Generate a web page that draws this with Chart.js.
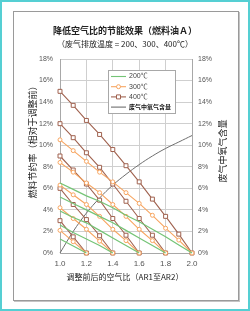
<!DOCTYPE html>
<html>
<head>
<meta charset="utf-8">
<script src="https://cdn.jsdelivr.net/npm/chart.js@4"></script>
<style>
  body { margin: 0; background: #fff; }
  #frame {
    position: absolute; left: 0; top: 0; width: 250px; height: 311px;
    box-sizing: border-box; border: 2px solid #55cfd3;
  }
  #card {
    position: absolute; left: 13px; top: 11px; width: 226px; height: 290px;
    box-sizing: border-box; border: 1px solid #9a9a9a; box-shadow: 1px 1px 0 #c4c4c4;
  }
  #wrap { position: absolute; left: 13px; top: 11px; width: 226px; height: 290px; }
  .txt {
    position: absolute; font-family: "Noto Sans CJK SC", sans-serif; color: #222;
    text-align: center; white-space: nowrap;
  }
  #title { left: 0; width: 250px; top: 25px; line-height: 12px; font-size: 9px; font-weight: bold; }
  #subtitle { left: 0; width: 250px; top: 38px; line-height: 12px; font-size: 8px; }
  #xTitle { left: 0; width: 250px; top: 271px; line-height: 12px; font-size: 8px; }
  #yTitle { left: -37px; width: 140px; top: 134px; line-height: 12px; font-size: 9px; transform: rotate(-90deg); }
  #y2Title { left: 183px; width: 80px; top: 145px; line-height: 12px; font-size: 9px; transform: rotate(-90deg); }
</style>
</head>
<body>
<div id="frame"></div>
<div id="card"></div>
<div id="wrap"><canvas id="chart" width="226" height="290"></canvas></div>
<div class="txt" id="title">降低空气比的节能效果（燃料油Ａ）</div>
<div class="txt" id="subtitle">（废气排放温度 = 200、300、400℃）</div>
<div class="txt" id="xTitle">调整前后的空气比（AR1至AR2）</div>
<div class="txt" id="yTitle">燃料节约率（相对于调整前）</div>
<div class="txt" id="y2Title">废气中氧气含量</div>
<script>
// Air ratio after adjustment (AR2), x axis
const arSteps = [1.0, 1.1, 1.2, 1.3, 1.4, 1.5, 1.6, 1.7, 1.8, 1.9, 2.0];
const xTickValues = [1.0, 1.2, 1.4, 1.6, 1.8, 2.0];
const yTickValues = [0, 2, 4, 6, 8, 10, 12, 14, 16, 18];

// Fuel saving (%) for starting air ratio AR1 = 1.2, 1.4, 1.6, 1.8, 2.0
const save200 = [
  [1.3, 0.65, 0],
  [2.6, 1.9, 1.3, 0.7, 0],
  [3.9, 3.3, 2.8, 2.1, 1.4, 0.7, 0],
  [5.2, 4.6, 4.0, 3.4, 2.8, 2.1, 1.4, 0.7, 0],
  [6.5, 5.9, 5.3, 4.8, 4.2, 3.5, 2.9, 2.2, 1.5, 0.75, 0],
];
const save300 = [
  [2.1, 1.05, 0],
  [4.2, 3.2, 2.2, 1.1, 0],
  [6.3, 5.4, 4.5, 3.4, 2.2, 1.15, 0],
  [8.4, 7.5, 6.5, 5.6, 4.5, 3.4, 2.2, 1.15, 0],
  [10.5, 9.5, 8.5, 7.5, 6.6, 5.6, 4.6, 3.5, 2.3, 1.2, 0],
];
const save400 = [
  [3, 1.5, 0],
  [6, 4.5, 3.1, 1.6, 0],
  [9, 7.7, 6.4, 4.9, 3.2, 1.65, 0],
  [12, 10.7, 9.3, 7.95, 6.4, 4.8, 3.2, 1.65, 0],
  [15, 13.7, 12.3, 11.0, 9.6, 8.1, 6.6, 5.0, 3.4, 1.75, 0],
];
// Oxygen content in flue gas (%), right axis
const o2Content = [0, 2.0, 3.7, 5.1, 6.3, 7.3, 8.2, 9.0, 9.7, 10.3, 10.9];

const legendLabels = ["200℃", "300℃", "400℃", "废气中氧气含量"];
const colGreen = "#74c476";
const colOrange = "#f7a560";
const colBrown = "#a0624f";
const colGray = "#6e6e6e";

function toPoints(vals) {
  return vals.map((v, i) => ({ x: arSteps[i], y: v }));
}

const datasets = [];
save200.forEach((s) => datasets.push({
  data: toPoints(s), borderColor: colGreen, borderWidth: 1.2,
  pointRadius: 0, yAxisID: "y",
}));
save300.forEach((s) => datasets.push({
  data: toPoints(s), borderColor: colOrange, borderWidth: 1.1,
  pointStyle: "circle", pointRadius: 2, pointBorderWidth: 1,
  pointBorderColor: colOrange, pointBackgroundColor: "#fff", yAxisID: "y",
}));
save400.forEach((s) => datasets.push({
  data: toPoints(s), borderColor: colBrown, borderWidth: 1.1,
  pointStyle: "rect", pointRadius: 2.8, pointBorderWidth: 1,
  pointBorderColor: colBrown, pointBackgroundColor: "#fff", yAxisID: "y",
}));
datasets.push({
  data: toPoints(o2Content), borderColor: colGray, borderWidth: 1,
  pointRadius: 0, tension: 0.4, yAxisID: "y2",
});

// Legend box drawn inside the plot, Excel style
const boxLegend = {
  id: "boxLegend",
  afterDatasetsDraw(chart) {
    const { ctx, chartArea } = chart;
    const x0 = Math.round(chartArea.left + 48);
    const y0 = Math.round(chartArea.top + 11);
    ctx.save();
    ctx.fillStyle = "#fff";
    ctx.fillRect(x0, y0, 67, 43);
    ctx.strokeStyle = "#a8a8a8";
    ctx.lineWidth = 1;
    ctx.strokeRect(x0 + 0.5, y0 + 0.5, 67, 43);
    const cols = [colGreen, colOrange, colBrown, colGray];
    legendLabels.forEach((label, i) => {
      const y = y0 + 6.5 + i * 10.2;
      ctx.strokeStyle = cols[i];
      ctx.lineWidth = 1.1;
      ctx.beginPath();
      ctx.moveTo(x0 + 3, y);
      ctx.lineTo(x0 + 18, y);
      ctx.stroke();
      // marker on the sample line
      if (i === 1 || i === 2) {
        ctx.fillStyle = "#fff";
        ctx.lineWidth = 1;
        ctx.beginPath();
        if (i === 1) ctx.arc(x0 + 10.5, y, 2, 0, Math.PI * 2);
        else ctx.rect(x0 + 8.5, y - 2, 4, 4);
        ctx.fill();
        ctx.stroke();
      }
      ctx.textBaseline = "middle";
      if (i < 3) {
        ctx.fillStyle = "#444";
        ctx.font = "7px 'Liberation Sans', 'Noto Sans CJK SC'";
      } else {
        ctx.fillStyle = "#111";
        ctx.font = "bold 6px 'Noto Sans CJK SC'";
      }
      ctx.fillText(label, x0 + 21, y);
    });
    ctx.restore();
  },
};

const tickFont = { family: "'Liberation Sans', Arial, sans-serif", size: 7 };

new Chart(document.getElementById("chart").getContext("2d"), {
  type: "line",
  data: { datasets },
  plugins: [boxLegend],
  options: {
    responsive: false,
    animation: false,
    clip: false,
    layout: { padding: { top: 48, left: 0, right: 0, bottom: 0 } },
    plugins: { legend: { display: false }, tooltip: { enabled: false } },
    scales: {
      x: {
        type: "linear", min: 1.0, max: 2.0,
        afterBuildTicks: (s) => { s.ticks = xTickValues.map((v) => ({ value: v })); },
        afterFit: (s) => { s.height = 48; },
        ticks: {
          color: "#555", font: { ...tickFont, size: 8 }, padding: 6,
          callback: (v) => Number(v).toFixed(1),
        },
        grid: { color: "#cfcfcf", drawTicks: false },
        border: { color: "#a8a8a8" },
      },
      y: {
        position: "left", min: 0, max: 18,
        afterBuildTicks: (s) => { s.ticks = yTickValues.map((v) => ({ value: v })); },
        afterFit: (s) => { s.width = 47; },
        ticks: { color: "#555", font: tickFont, padding: 7, callback: (v) => v + "%" },
        grid: { color: "#cfcfcf", drawTicks: false },
        border: { color: "#a8a8a8" },
      },
      y2: {
        position: "right", min: 0, max: 18,
        afterBuildTicks: (s) => { s.ticks = yTickValues.map((v) => ({ value: v })); },
        afterFit: (s) => { s.width = 47; },
        ticks: { color: "#555", font: tickFont, padding: 6, callback: (v) => v + "%" },
        grid: { display: false, drawTicks: false },
        border: { color: "#a8a8a8" },
      },
    },
  },
});
</script>
</body>
</html>
